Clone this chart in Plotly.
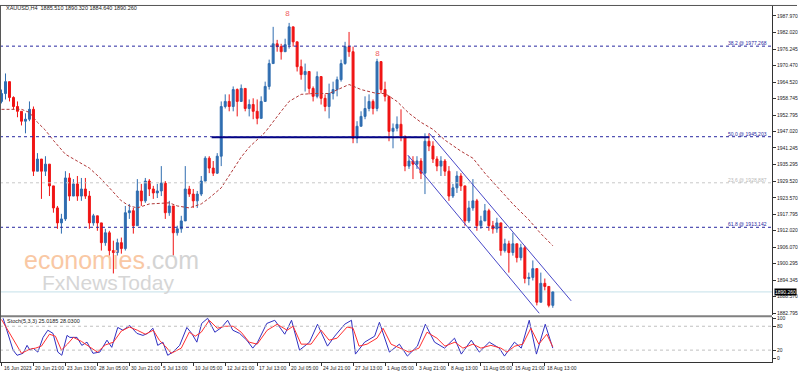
import plotly.graph_objects as go

# ---------------- data ----------------
first_open = 1957.7
closes = [1960.5, 1964.7, 1959.1, 1955.9, 1954.2, 1950.7, 1951.4, 1954.9, 1933.0, 1937.3,
          1933.0, 1935.5, 1927.8, 1920.0, 1914.7, 1916.1, 1930.6, 1924.2, 1928.5, 1924.2,
          1926.7, 1924.2, 1914.7, 1917.2, 1914.7, 1907.7, 1911.2, 1904.9, 1904.2, 1907.7,
          1905.6, 1918.3, 1919.0, 1913.7, 1926.0, 1922.5, 1929.5, 1926.7, 1925.3, 1926.0,
          1928.8, 1918.3, 1920.7, 1911.2, 1912.6, 1915.4, 1926.7, 1924.9, 1922.5, 1924.9,
          1929.5, 1937.6, 1934.1, 1932.3, 1938.3, 1955.9, 1957.7, 1955.9, 1961.9, 1957.7,
          1962.3, 1955.2, 1956.6, 1954.2, 1951.7, 1957.7, 1963.0, 1971.1, 1978.1, 1977.1,
          1975.3, 1977.8, 1984.1, 1978.8, 1970.0, 1967.2, 1968.3, 1962.3, 1959.5, 1966.5,
          1958.8, 1955.9, 1960.5, 1961.9, 1965.4, 1971.1, 1977.1, 1975.3, 1944.7, 1948.9,
          1952.4, 1955.2, 1957.7, 1955.2, 1971.8, 1961.9, 1959.5, 1947.1, 1948.2, 1949.6,
          1945.4, 1934.8, 1936.6, 1935.5, 1936.6, 1932.3, 1943.6, 1941.9, 1937.3, 1934.8,
          1936.6, 1933.0, 1924.2, 1927.1, 1931.3, 1927.8, 1915.4, 1920.0, 1922.5, 1913.7,
          1915.4, 1919.0, 1913.7, 1912.6, 1914.7, 1904.9, 1907.3, 1904.2, 1907.3, 1902.4,
          1905.9, 1895.0, 1895.4, 1898.5, 1886.6, 1893.3, 1892.2, 1885.5, 1890.26]
highs = [1961.9, 1967.6, 1961.9, 1959.5, 1957.7, 1953.5, 1953.5, 1957.7, 1955.9, 1939.4,
         1936.6, 1938.3, 1934.8, 1927.8, 1920.7, 1917.9, 1933.0, 1932.3, 1930.2, 1931.3,
         1930.6, 1930.6, 1926.0, 1917.9, 1917.2, 1914.7, 1912.6, 1911.9, 1908.4, 1909.1,
         1909.5, 1920.7, 1921.4, 1920.0, 1930.2, 1928.5, 1930.6, 1930.2, 1927.8, 1928.5,
         1934.8, 1929.5, 1922.5, 1920.7, 1913.7, 1917.2, 1934.8, 1927.8, 1926.7, 1926.0,
         1931.3, 1938.3, 1938.3, 1936.6, 1939.4, 1957.7, 1960.2, 1960.2, 1963.0, 1962.3,
         1963.7, 1962.3, 1958.4, 1958.8, 1958.4, 1959.5, 1964.7, 1972.5, 1984.1, 1979.5,
         1978.1, 1979.9, 1985.5, 1984.1, 1978.8, 1972.5, 1971.1, 1968.3, 1963.0, 1968.3,
         1966.5, 1960.2, 1964.0, 1964.7, 1966.5, 1972.5, 1978.8, 1982.3, 1977.1, 1950.7,
         1954.2, 1959.5, 1960.2, 1958.4, 1972.8, 1971.8, 1964.7, 1959.5, 1949.9, 1952.4,
         1954.9, 1945.4, 1938.3, 1938.3, 1938.3, 1937.6, 1946.4, 1946.4, 1943.6, 1938.3,
         1938.3, 1937.3, 1934.8, 1928.5, 1933.0, 1932.3, 1927.8, 1922.5, 1930.2, 1923.2,
         1917.2, 1921.4, 1919.7, 1915.4, 1916.5, 1914.7, 1909.1, 1908.4, 1911.2, 1907.3,
         1907.3, 1906.6, 1897.1, 1901.4, 1898.5, 1897.1, 1895.0, 1892.2, 1890.32]
lows = [1957.0, 1958.4, 1957.7, 1954.9, 1952.1, 1949.2, 1946.4, 1950.7, 1931.3, 1935.5,
        1923.2, 1931.3, 1924.2, 1918.3, 1912.6, 1910.9, 1915.4, 1922.5, 1924.2, 1922.5,
        1922.5, 1923.2, 1912.6, 1913.7, 1911.9, 1904.9, 1906.6, 1903.1, 1896.8, 1903.1,
        1903.8, 1904.9, 1916.1, 1910.9, 1913.7, 1920.7, 1921.8, 1924.2, 1923.2, 1923.5,
        1924.2, 1916.1, 1917.2, 1903.1, 1910.2, 1911.2, 1917.2, 1923.9, 1920.0, 1920.0,
        1924.2, 1929.5, 1932.3, 1931.3, 1932.0, 1934.8, 1955.2, 1954.2, 1954.2, 1952.4,
        1957.7, 1954.2, 1952.4, 1951.4, 1949.6, 1953.5, 1957.7, 1961.9, 1971.1, 1975.3,
        1972.5, 1976.0, 1976.4, 1977.1, 1968.3, 1965.4, 1961.2, 1960.2, 1957.7, 1958.8,
        1956.6, 1954.2, 1951.7, 1958.4, 1959.5, 1964.7, 1970.7, 1973.5, 1942.9, 1942.9,
        1948.9, 1951.4, 1954.2, 1953.1, 1954.2, 1960.5, 1957.7, 1943.6, 1941.1, 1947.1,
        1943.6, 1933.0, 1933.8, 1930.2, 1933.8, 1930.2, 1924.9, 1940.1, 1935.9, 1933.0,
        1931.3, 1931.3, 1922.5, 1923.5, 1925.3, 1926.0, 1913.7, 1914.7, 1919.0, 1911.9,
        1912.6, 1915.4, 1911.9, 1910.9, 1911.2, 1903.1, 1904.2, 1897.1, 1903.1, 1900.7,
        1901.4, 1893.3, 1892.6, 1894.3, 1885.5, 1888.3, 1890.8, 1884.8, 1884.64]

ma_idx = [0, 5, 7, 9, 11, 13, 16, 19, 22, 25, 28, 30, 32, 34, 37, 40, 42, 44, 47, 50, 52, 55, 57,
          60, 62, 66, 70, 72, 75, 78, 82, 85, 87, 90, 94, 96, 99, 102, 105, 108, 111, 115, 118,
          121, 125, 128, 132, 135, 138]
ma_vals = [1954.9, 1954.9, 1953.8, 1950.3, 1947.5, 1943.9, 1939.0, 1936.6, 1934.1, 1930.2, 1925.6,
           1922.5, 1920.7, 1920.0, 1921.4, 1921.8, 1921.8, 1920.7, 1920.0, 1921.4, 1923.5, 1927.1,
           1931.6, 1938.0, 1941.5, 1946.8, 1954.2, 1957.7, 1960.2, 1960.5, 1960.5, 1962.3, 1963.7,
           1961.9, 1960.5, 1960.5, 1957.7, 1953.5, 1950.3, 1947.8, 1944.0, 1940.1, 1937.6, 1932.3,
           1926.0, 1921.4, 1915.8, 1910.9, 1906.6]

stoch_main_x = [0.4, 2.9, 3.9, 5.4, 6.4, 7.1, 7.9, 9.1, 10.4, 11.6, 12.9, 14.1, 15.1, 16.4, 17.1,
                18.9, 20.1, 21.4, 22.9, 24.6, 26.4, 27.6, 29.1, 30.4, 32.1, 33.9, 35.4, 36.6, 37.9,
                39.1, 40.4, 41.6, 42.9, 44.6, 46.4, 47.6, 48.9, 50.1, 51.6, 53.4, 55.1, 56.6, 57.9,
                59.6, 61.4, 62.9, 64.1, 66.4, 68.4, 70.9, 72.6, 74.6, 77.1, 79.1, 81.6, 83.4, 85.9,
                87.6, 88.6, 90.9, 93.4, 94.6, 97.1, 99.6, 101.6, 104.1, 106.1, 108.4, 110.9, 113.4,
                115.1, 117.6, 119.6, 122.1, 124.6, 125.9, 128.4, 130.1, 132.1, 133.9, 136.1, 138.0]
stoch_main = [100, 20, 7, 12, 32, 20, 25, 15, 52, 70, 62, 15, 7, 57, 52, 52, 32, 40, 12, 15, 45, 27,
              77, 70, 82, 62, 57, 62, 75, 32, 40, 7, 15, 32, 77, 62, 40, 87, 100, 65, 77, 95, 70, 62,
              45, 25, 40, 87, 95, 60, 95, 20, 40, 85, 30, 55, 85, 95, 10, 40, 55, 90, 15, 35, 5, 30,
              85, 40, 25, 50, 10, 45, 15, 40, 25, 5, 40, 25, 95, 10, 85, 25]
stoch_sig_x = [0, 3.5, 5, 7, 8.5, 10, 12, 13.5, 15, 16.5, 18, 20, 22, 24, 26, 28, 30, 32, 34, 36, 38,
               39.5, 41, 42.5, 45, 47, 48.5, 50, 52, 54, 56, 58, 60, 62, 64, 66.5, 69, 71.5, 73, 75,
               77.5, 80, 82, 84, 86.5, 88, 89.5, 91.5, 94, 95.5, 97.5, 100, 102, 104.5, 106.5, 109,
               111, 113.5, 115.5, 118, 120, 122.5, 125, 126.5, 128.5, 130.5, 132.5, 134.5, 136.5, 138]
stoch_sig = [97, 40, 12, 22, 25, 30, 60, 55, 20, 35, 52, 42, 28, 15, 33, 40, 68, 78, 70, 60, 70, 45,
             30, 12, 25, 65, 55, 65, 95, 75, 80, 80, 65, 40, 35, 70, 85, 70, 80, 35, 35, 70, 45, 50,
             78, 75, 30, 35, 50, 75, 35, 25, 15, 25, 65, 50, 30, 40, 25, 35, 25, 32, 25, 15, 30, 35,
             75, 35, 60, 28]

price_ticks = [1987.970, 1982.020, 1976.245, 1970.470, 1964.520, 1958.745, 1952.795, 1947.020,
               1941.245, 1935.295, 1929.520, 1923.570, 1917.795, 1912.020, 1906.070, 1900.295,
               1894.345, 1888.570, 1882.795]
time_tick_idx = [0, 8, 16, 24, 32, 40, 48, 56, 64, 72, 80, 88, 96, 104, 112, 120, 128, 136]
time_labels = ["16 Jun 2023", "20 Jun 21:00", "23 Jun 13:00", "28 Jun 05:00", "30 Jun 21:00",
               "5 Jul 13:00", "10 Jul 05:00", "12 Jul 21:00", "17 Jul 13:00", "20 Jul 05:00",
               "24 Jul 21:00", "27 Jul 13:00", "1 Aug 05:00", "3 Aug 21:00", "8 Aug 13:00",
               "11 Aug 05:00", "15 Aug 21:00", "18 Aug 13:00"]

fib_levels = [1977.268, 1945.203, 1928.887, 1913.142]
fib_labels = ["38.2 @ 1977.268", "50.0 @ 1945.203", "23.6 @ 1928.887", "61.8 @ 1913.142"]
fib_colors = ["#2828a0", "#2828a0", "#c8c8c8", "#2828a0"]

neck_idx = [52.6, 107.1]
neck_price = [1945.0, 1945.0]
chan_upper_idx = [107.1, 142.6]
chan_upper_price = [1946.4, 1887.1]
chan_lower_idx = [101.7, 134.6]
chan_lower_price = [1938.7, 1882.7]

mark_idx = [71.6, 94.1]
mark_price = [1988.6, 1974.6]

last_price = 1890.26
header = "XAUUSD,H4  1885.510 1890.320 1884.640 1890.260"
stoch_title = "Stoch(5,3,3) 25.0185 28.0300"

# ---------------- figure ----------------
W, H = 798, 372
n = len(closes)
x_idx = list(range(n))
opens = [first_open] + closes[:-1]
hi = [max(h, o, c) for h, o, c in zip(highs, opens, closes)]
lo = [min(l, o, c) for l, o, c in zip(lows, opens, closes)]

XR = 773 / W
def py(p):  # pixel-from-top -> paper y
    return (H - p) / H

FONT = "Liberation Sans"
fig = go.Figure()

fig.add_trace(go.Candlestick(
    x=x_idx, open=opens, high=hi, low=lo, close=closes,
    increasing=dict(line=dict(color="#2f6db0", width=1), fillcolor="#2f6db0"),
    decreasing=dict(line=dict(color="#f01414", width=1), fillcolor="#f01414"),
    whiskerwidth=0, xaxis="x", yaxis="y", hoverinfo="skip", showlegend=False))

fig.add_trace(go.Scatter(x=ma_idx, y=ma_vals, mode="lines",
                         line=dict(color="#b03838", width=1, dash="3px,2px"),
                         xaxis="x", yaxis="y", showlegend=False, hoverinfo="skip"))

fig.add_trace(go.Scatter(x=neck_idx, y=neck_price, mode="lines",
                         line=dict(color="#000080", width=2), xaxis="x", yaxis="y",
                         showlegend=False, hoverinfo="skip"))
for xs, ys in [(chan_upper_idx, chan_upper_price), (chan_lower_idx, chan_lower_price)]:
    fig.add_trace(go.Scatter(x=xs, y=ys, mode="lines", line=dict(color="#4848c8", width=1),
                             xaxis="x", yaxis="y", showlegend=False, hoverinfo="skip"))

fig.add_trace(go.Scatter(x=mark_idx, y=mark_price, mode="text", text=["8", "8"],
                         textfont=dict(color="#f06060", size=8, family=FONT),
                         xaxis="x", yaxis="y", showlegend=False, hoverinfo="skip"))

fig.add_trace(go.Scatter(x=stoch_main_x, y=stoch_main, mode="lines",
                         line=dict(color="#3030c0", width=1), xaxis="x2", yaxis="y2",
                         showlegend=False, hoverinfo="skip"))
fig.add_trace(go.Scatter(x=stoch_sig_x, y=stoch_sig, mode="lines",
                         line=dict(color="#ff3030", width=1), xaxis="x2", yaxis="y2",
                         showlegend=False, hoverinfo="skip"))

shapes = []
for lvl, col in zip(fib_levels, fib_colors):
    shapes.append(dict(type="line", xref="paper", yref="y", x0=0, x1=XR, y0=lvl, y1=lvl,
                       line=dict(color=col, width=1, dash="dot")))
shapes.append(dict(type="line", xref="paper", yref="y", x0=0, x1=XR, y0=last_price, y1=last_price,
                   line=dict(color="#c4e0ea", width=1), layer="below"))
for lv in [80, 20]:
    shapes.append(dict(type="line", xref="paper", yref="y2", x0=0, x1=XR, y0=lv, y1=lv,
                       line=dict(color="#c0c0c0", width=1, dash="dot")))
# frames
shapes.append(dict(type="line", xref="paper", yref="paper", x0=0, x1=1, y0=py(3.5), y1=py(3.5),
                   line=dict(color="#555555", width=1)))
shapes.append(dict(type="line", xref="paper", yref="paper", x0=0, x1=XR, y0=py(316), y1=py(316),
                   line=dict(color="#808080", width=2)))
shapes.append(dict(type="line", xref="paper", yref="paper", x0=0.5 / W, x1=0.5 / W,
                   y0=py(3.5), y1=py(362), line=dict(color="#555555", width=1)))

ann = []
ann.append(dict(xref="paper", yref="paper", x=4 / W, y=py(6), xanchor="left", yanchor="middle",
                text=header, showarrow=False, font=dict(size=5.5, color="#222222", family=FONT)))
ann.append(dict(xref="paper", yref="paper", x=5 / W, y=py(321), xanchor="left", yanchor="middle",
                text=stoch_title, showarrow=False, font=dict(size=5.5, color="#222222", family=FONT)))
for lvl, lab, col in zip(fib_levels, fib_labels, fib_colors):
    c = "#2828a0" if col != "#c8c8c8" else "#b8b8b8"
    ann.append(dict(xref="paper", yref="y", x=770 / W, y=lvl, xanchor="right", yanchor="bottom",
                    text=lab, showarrow=False, yshift=-2,
                    font=dict(size=5, color=c, family=FONT)))
for i, lab in zip(time_tick_idx, time_labels):
    ann.append(dict(xref="x2", yref="paper", x=i, y=py(363), xanchor="left", yanchor="top",
                    text=lab, showarrow=False, xshift=0,
                    font=dict(size=5, color="#222222", family=FONT)))
ann.append(dict(xref="paper", yref="y", x=775 / W, y=last_price, xanchor="left", yanchor="middle",
                text="1890.260", showarrow=False, bgcolor="#000000", borderpad=0,
                font=dict(size=5, color="#ffffff", family=FONT)))
ann.append(dict(xref="paper", yref="paper", x=112 / W, y=py(259), xanchor="center",
                yanchor="middle", showarrow=False,
                text="<span style='color:#f9c8a4'>economies</span><span style='color:#d4d4d4'>.com</span>",
                font=dict(size=25, family=FONT)))
ann.append(dict(xref="paper", yref="paper", x=108 / W, y=py(282), xanchor="center",
                yanchor="middle", showarrow=False, text="FxNewsToday",
                font=dict(size=21, color="#d6d6d6", family=FONT)))

x_range = [-0.375, -0.375 + 773 / 4]
fig.update_layout(
    width=W, height=H, margin=dict(l=0, r=0, t=0, b=0),
    paper_bgcolor="white", plot_bgcolor="white", showlegend=False,
    xaxis=dict(domain=[0, XR], range=x_range, anchor="y", showticklabels=False, showgrid=False,
               zeroline=False, rangeslider=dict(visible=False), fixedrange=True),
    xaxis2=dict(domain=[0, XR], range=x_range, anchor="y2", showgrid=False, zeroline=False,
                tickvals=time_tick_idx, ticks="outside", ticklen=3, tickcolor="#333333",
                showticklabels=False, showline=True, linecolor="#333333", linewidth=1),
    yaxis=dict(domain=[py(315), py(4)], range=[1881.98, 1991.49], side="right", anchor="x",
               showgrid=False, zeroline=False, tickvals=price_ticks,
               ticktext=[f"{v:.3f}" for v in price_ticks], ticks="outside", ticklen=3,
               tickcolor="#333333", showline=True, linecolor="#333333", linewidth=1,
               tickfont=dict(size=5, color="#222222", family=FONT)),
    yaxis2=dict(domain=[py(362), py(317)], range=[-10, 102.5], side="right", anchor="x2",
                showgrid=False, zeroline=False, tickvals=[100, 80, 20, 0],
                ticktext=["100", "80", "20", "0"], ticks="outside", ticklen=3,
                tickcolor="#333333", showline=True, linecolor="#333333", linewidth=1,
                tickfont=dict(size=5, color="#222222", family=FONT)),
    shapes=shapes, annotations=ann,
)

fig.write_html("out.html", config={"displayModeBar": False},
               post_script="document.body.style.margin='0';document.body.style.overflow='hidden';")
